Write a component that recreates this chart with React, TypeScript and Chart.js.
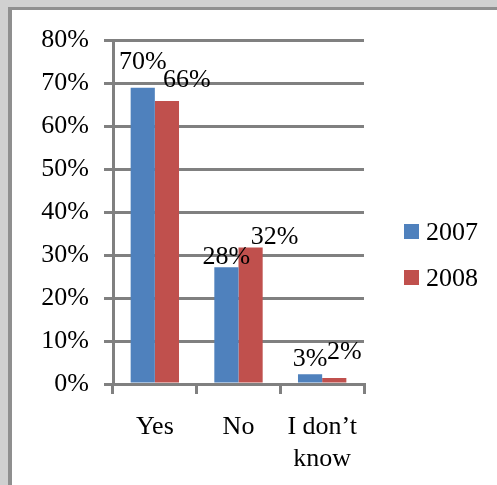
import React, { useEffect, useRef } from "react";
import { Chart, registerables } from "chart.js";

Chart.register(...registerables);

const categories: (string | string[])[] = ["Yes", "No", ["I don\u2019t", "know"]];
const seriesNames = ["2007", "2008"];
const values2007 = [0.69, 0.272, 0.023];
const values2008 = [0.659, 0.318, 0.014];
const labels2007 = ["70%", "28%", "3%"];
const labels2008 = ["66%", "32%", "2%"];
const yTickMax = 0.8;
const yTickStep = 0.1;

const BLUE = "#4F81BD";
const RED = "#C0504D";
const GRID = "#808080";
const FONT = "'Liberation Serif', 'Times New Roman', serif";

// small text nudges for data labels (dx, dy) to mimic the original placement
const labelNudges = [
  [[0, -16], [0, 0], [0, -5]],
  [[20, -11], [24, 0], [10, -16]],
];

const dataLabelsPlugin = {
  id: "dataLabelsCustom",
  afterDatasetsDraw(chart: any) {
    const ctx = chart.ctx;
    const texts = [labels2007, labels2008];
    ctx.save();
    ctx.font = `26px ${FONT}`;
    ctx.fillStyle = "#000";
    ctx.textAlign = "center";
    ctx.textBaseline = "alphabetic";
    chart.data.datasets.forEach((_: any, di: number) => {
      const meta = chart.getDatasetMeta(di);
      meta.data.forEach((bar: any, i: number) => {
        const [dx, dy] = labelNudges[di][i];
        ctx.fillText(texts[di][i], bar.x + dx, bar.y - 3 + dy);
      });
    });
    ctx.restore();
  },
};

const legendPlugin = {
  id: "legendCustom",
  afterDraw(chart: any) {
    const ctx = chart.ctx;
    const colors = [BLUE, RED];
    ctx.save();
    ctx.font = `26px ${FONT}`;
    ctx.textAlign = "left";
    ctx.textBaseline = "alphabetic";
    seriesNames.forEach((name, i) => {
      const y = 214 + i * 46;
      ctx.fillStyle = colors[i];
      ctx.fillRect(392, y, 15, 15);
      ctx.fillStyle = "#000";
      ctx.fillText(name, 414, y + 16);
    });
    ctx.restore();
  },
};

export default function App() {
  const ref = useRef<HTMLCanvasElement>(null);
  useEffect(() => {
    document.body.style.margin = "0";
    if (!ref.current) return;
    const chart = new Chart(ref.current, {
      type: "bar",
      data: {
        labels: categories as any,
        datasets: [
          { label: seriesNames[0], data: values2007, backgroundColor: BLUE, categoryPercentage: 0.578, barPercentage: 1 },
          { label: seriesNames[1], data: values2008, backgroundColor: RED, categoryPercentage: 0.578, barPercentage: 1 },
        ],
      },
      options: {
        animation: false,
        responsive: false,
        devicePixelRatio: 1,
        layout: { padding: { left: 0, top: 26, right: 133, bottom: 0 } },
        plugins: { legend: { display: false }, tooltip: { enabled: false } },
        scales: {
          x: {
            offset: true,
            grid: { drawOnChartArea: false, drawTicks: true, tickLength: 10, color: GRID, lineWidth: 3 },
            border: { display: true, color: GRID, width: 3 },
            ticks: {
              font: { family: FONT, size: 26, lineHeight: 1.23 },
              color: "#000",
              padding: 17,
              maxRotation: 0,
              autoSkip: false,
            },
            afterFit: (s: any) => { s.height = 101; },
          },
          y: {
            min: 0,
            max: yTickMax,
            grid: { color: GRID, lineWidth: 3, tickLength: 9 },
            border: { display: true, color: GRID, width: 3 },
            ticks: {
              stepSize: yTickStep,
              font: { family: FONT, size: 26 },
              color: "#000",
              padding: 15,
              callback: (v: any) => Math.round(Number(v) * 100) + "%",
            },
            afterFit: (s: any) => { s.width = 101; },
          },
        },
      },
      plugins: [dataLabelsPlugin, legendPlugin],
    });
    return () => chart.destroy();
  }, []);

  return (
    <div style={{ position: "relative", width: 497, height: 485, background: "#d0d0d0", overflow: "hidden" }}>
      <div
        style={{
          position: "absolute",
          left: 8,
          top: 7,
          width: 485,
          height: 475,
          background: "#fff",
          borderLeft: "4px solid #8f8f8f",
          borderTop: "3px solid #8f8f8f",
        }}
      >
        <canvas ref={ref} width={485} height={475} style={{ display: "block" }} />
      </div>
    </div>
  );
}
